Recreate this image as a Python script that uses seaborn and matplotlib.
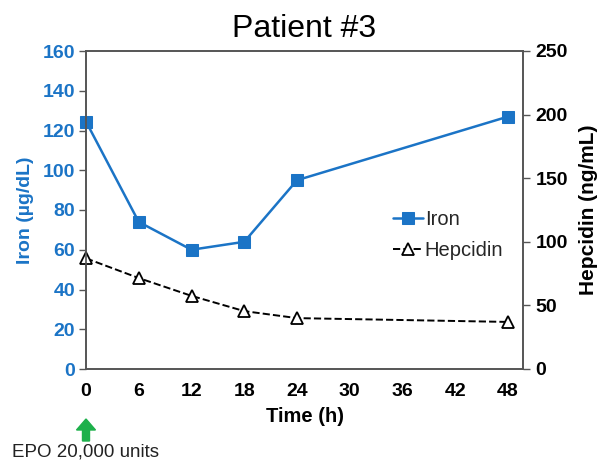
import matplotlib
matplotlib.use("Agg")
import matplotlib.pyplot as plt
from matplotlib.patches import FancyArrow
import seaborn as sns
import numpy as np

time_h = [0, 6, 12, 18, 24, 48]
iron = [124.5, 74, 60, 64, 95, 127]
hepcidin = [87, 71.5, 57.5, 45.5, 40, 37]
x_ticks = [0, 6, 12, 18, 24, 30, 36, 42, 48]
iron_ticks = [0, 20, 40, 60, 80, 100, 120, 140, 160]
hep_ticks = [0, 50, 100, 150, 200, 250]

sns.set_theme(style="white")
plt.rcParams['font.family'] = ['Liberation Sans', 'DejaVu Sans']

blue = "#1B74C6"
W, H = 605, 468
fig = plt.figure(figsize=(6.05, 4.68), dpi=100)
ax = fig.add_axes([86 / W, 1 - 369 / H, (523 - 86) / W, (369 - 51) / H])
ax2 = ax.twinx()

sns.lineplot(x=time_h, y=iron, ax=ax, color=blue, marker='s', markersize=8.5,
             markeredgecolor=blue, linewidth=1.8, label='Iron', legend=False,
             clip_on=False)
sns.lineplot(x=time_h, y=hepcidin, ax=ax2, color='black', marker='^', markersize=9,
             markerfacecolor='white', markeredgecolor='black', markeredgewidth=1.3,
             linestyle='--', linewidth=1.4, label='Hepcidin', legend=False,
             clip_on=False)

ax.set_xlim(0, 49.7)
ax.set_ylim(0, 160)
ax2.set_ylim(0, 250)
ax.set_xticks(x_ticks)
ax.set_yticks(iron_ticks)
ax2.set_yticks(hep_ticks)

for a in (ax, ax2):
    for s in a.spines.values():
        s.set_color('#555555')
        s.set_linewidth(1.2)

ax.tick_params(axis='y', direction='out', length=5, width=1, colors='#555555',
               labelcolor=blue, labelsize=14, pad=3)
ax.tick_params(axis='x', direction='out', length=4, width=1, colors='#555555',
               labelsize=14, labelcolor='black', pad=6)
ax2.tick_params(axis='y', direction='out', length=5, width=1, colors='#555555',
                labelcolor='black', labelsize=14, pad=4)
for lbl in ax.get_yticklabels() + ax.get_xticklabels() + ax2.get_yticklabels():
    lbl.set_fontweight('bold')

ax.set_xlabel('Time (h)', fontsize=14.5, fontweight='bold', color='black', labelpad=5)
ax.set_ylabel('Iron (µg/dL)', fontsize=14, fontweight='bold', color=blue, labelpad=6)
ax2.set_ylabel('Hepcidin (ng/mL)', fontsize=15, fontweight='bold', color='black', labelpad=8)
ax.set_title('Patient #3', fontsize=23, color='black', pad=10)

h1, l1 = ax.get_legend_handles_labels()
h2, l2 = ax2.get_legend_handles_labels()
ax2.legend(h1 + h2, l1 + l2, loc='center left', bbox_to_anchor=(0.66, 0.42),
           frameon=False, fontsize=14.5, handlelength=1.5, handletextpad=0.1,
           labelspacing=0.6)

# green arrow under time 0
fig.patches.append(FancyArrow(86 / W, 1 - 441 / H, 0, 22 / H, width=7 / W,
                              head_width=19 / W, head_length=11 / H,
                              length_includes_head=True, color='#1DB04B',
                              transform=fig.transFigure, figure=fig))
fig.text(12 / W, 1 - 452 / H, 'EPO 20,000 units', fontsize=13.5, color='#222222',
         va='center', ha='left')

fig.savefig('out.png', dpi=100)
